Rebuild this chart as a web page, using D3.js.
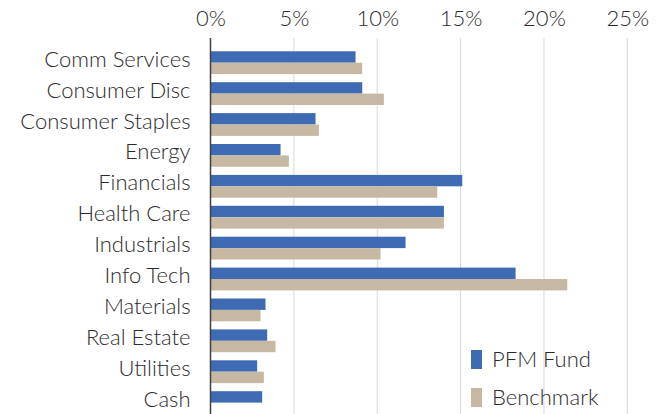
<!DOCTYPE html>
<html lang="en">
<head>
    <meta charset="UTF-8">
    <title>Sector Weights</title>
    <script src="https://d3js.org/d3.v7.min.js"></script>
    <style>
        body { margin: 0; background: #fff; }
        svg text { font-family: Lato, sans-serif; font-weight: 300; fill: #2b2b2b; }
    </style>
</head>
<body>
    <div class="chart"></div>
    <script>
        const sectors = ['Comm Services', 'Consumer Disc', 'Consumer Staples', 'Energy', 'Financials',
            'Health Care', 'Industrials', 'Info Tech', 'Materials', 'Real Estate', 'Utilities', 'Cash'];
        const fund = [8.7, 9.1, 6.3, 4.2, 15.1, 14.0, 11.7, 18.3, 3.3, 3.4, 2.8, 3.1];
        const benchmark = [9.1, 10.4, 6.5, 4.7, 13.6, 14.0, 10.2, 21.4, 3.0, 3.9, 3.2, 0];
        const ticks = [0, 5, 10, 15, 20, 25];
        const seriesNames = ['PFM Fund', 'Benchmark'];
        const colors = ['#3e6bb4', '#c7b8a3'];

        const svgWidth = 663, svgHeight = 414;

        const svg = d3.select('.chart')
            .append('svg')
            .attr('width', svgWidth)
            .attr('height', svgHeight);

        const x = d3.scaleLinear().domain([0, 25]).range([210.5, 627.3]);
        const y = d3.scaleBand().domain(sectors).range([47.5, 47.5 + 30.9 * 12]);
        const sub = d3.scaleBand().domain(seriesNames).range([3.8, 26.6]);

        // gridlines
        svg.append('g')
            .selectAll('line')
            .data(ticks.slice(1))
            .enter()
            .append('line')
            .attr('x1', d => x(d)).attr('x2', d => x(d))
            .attr('y1', 38).attr('y2', svgHeight)
            .attr('stroke', '#d9d9d9')
            .attr('stroke-width', 1);

        // top axis labels
        const xAxis = svg.append('g')
            .attr('transform', 'translate(0,26)')
            .call(d3.axisTop(x).tickValues(ticks).tickFormat(d => d + '%').tickSize(0).tickPadding(0));
        xAxis.select('.domain').remove();
        xAxis.selectAll('text').style('font-size', '22px').attr('fill', '#2b2b2b');

        const rows = svg.append('g')
            .selectAll('g')
            .data(sectors)
            .enter()
            .append('g')
            .attr('transform', d => `translate(0,${y(d)})`);

        rows.append('rect')
            .attr('x', x(0))
            .attr('y', sub('PFM Fund'))
            .attr('width', (d, i) => x(fund[i]) - x(0))
            .attr('height', sub.bandwidth())
            .attr('fill', colors[0]);

        rows.append('rect')
            .attr('x', x(0))
            .attr('y', sub('Benchmark'))
            .attr('width', (d, i) => x(benchmark[i]) - x(0))
            .attr('height', sub.bandwidth())
            .attr('fill', colors[1]);

        // category axis
        const yAxis = svg.append('g')
            .attr('transform', `translate(${x(0)},0)`)
            .call(d3.axisLeft(y).tickSize(0).tickPadding(20));
        yAxis.select('.domain').remove();
        yAxis.selectAll('text').style('font-size', '22px').attr('dy', '0.17em').attr('fill', '#2b2b2b');

        svg.append('line')
            .attr('x1', x(0)).attr('x2', x(0))
            .attr('y1', 38).attr('y2', svgHeight)
            .attr('stroke', '#404040')
            .attr('stroke-width', 1.5);

        // legend
        const legend = svg.append('g')
            .selectAll('g')
            .data(seriesNames)
            .enter()
            .append('g')
            .attr('transform', (d, i) => `translate(471,${350 + i * 38})`);
        legend.append('rect')
            .attr('width', 11).attr('height', 19)
            .attr('fill', (d, i) => colors[i]);
        legend.append('text')
            .attr('x', 21).attr('y', 17)
            .style('font-size', '22px')
            .text(d => d);
    </script>
</body>
</html>
